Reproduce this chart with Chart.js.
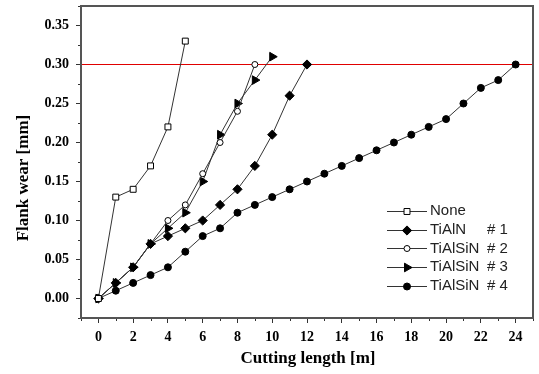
<!DOCTYPE html>
<html>
<head>
<meta charset="utf-8">
<script src="https://cdn.jsdelivr.net/npm/chart.js"></script>
<style>
  body { margin: 0; background: #fff; }
  canvas { display: block; }
</style>
</head>
<body>
<canvas id="wearChart" width="539" height="374"></canvas>
<script>
// cutting length in metres, one sample per metre
const cuttingLength = [0, 1, 2, 3, 4, 5, 6, 7, 8, 9, 10, 11, 12, 13, 14, 15, 16, 17, 18, 19, 20, 21, 22, 23, 24];

const seriesLabels = ['None', 'TiAlN # 1', 'TiAlSiN # 2', 'TiAlSiN # 3', 'TiAlSiN # 4'];
const wearNone = [0, 0.13, 0.14, 0.17, 0.22, 0.33];
const wearTiAlN1 = [0, 0.02, 0.04, 0.07, 0.08, 0.09, 0.10, 0.12, 0.14, 0.17, 0.21, 0.26, 0.30];
const wearTiAlSiN2 = [0, 0.02, 0.04, 0.07, 0.10, 0.12, 0.16, 0.20, 0.24, 0.30];
const wearTiAlSiN3 = [0, 0.02, 0.04, 0.07, 0.09, 0.11, 0.15, 0.21, 0.25, 0.28, 0.31];
const wearTiAlSiN4 = [0, 0.01, 0.02, 0.03, 0.04, 0.06, 0.08, 0.09, 0.11, 0.12, 0.13, 0.14, 0.15,
                      0.16, 0.17, 0.18, 0.19, 0.20, 0.21, 0.22, 0.23, 0.25, 0.27, 0.28, 0.30];

const xTicks = [0, 2, 4, 6, 8, 10, 12, 14, 16, 18, 20, 22, 24];
const yTicks = [0, 0.05, 0.10, 0.15, 0.20, 0.25, 0.30, 0.35];
const wearLimit = 0.30;

const serif = '"Liberation Serif", "Times New Roman", serif';
const sans = '"Liberation Sans", Arial, sans-serif';

function toPoints(ys) {
    return ys.map((y, i) => ({ x: cuttingLength[i], y: y }));
}

// marker look for each series
const markers = [
    { pointStyle: 'rect', radius: 4.2, rotation: 0, fill: '#fff' },
    { pointStyle: 'rectRot', radius: 4.6, rotation: 0, fill: '#000' },
    { pointStyle: 'circle', radius: 3, rotation: 0, fill: '#fff' },
    { pointStyle: 'triangle', radius: 5, rotation: 90, fill: '#000' },
    { pointStyle: 'circle', radius: 3.5, rotation: 0, fill: '#000' }
];

const allWear = [wearNone, wearTiAlN1, wearTiAlSiN2, wearTiAlSiN3, wearTiAlSiN4];

const datasets = allWear.map((ys, i) => ({
    label: seriesLabels[i],
    data: toPoints(ys),
    borderColor: '#333',
    borderWidth: 1,
    pointStyle: markers[i].pointStyle,
    pointRadius: markers[i].radius,
    pointRotation: markers[i].rotation,
    pointBackgroundColor: markers[i].fill,
    pointBorderColor: '#000',
    pointBorderWidth: 1,
    tension: 0
}));

// no extra label padding, so the plot box lands where the original has it
function noPadding(s) {
    s.paddingTop = 0;
    s.paddingBottom = 0;
    s.paddingLeft = 0;
    s.paddingRight = 0;
}

// frame, limit line, minor ticks, axis titles and the in-plot legend
const decorPlugin = {
    id: 'decor',
    beforeDatasetsDraw(chart) {
        const { ctx, chartArea: a, scales: { y } } = chart;
        const yy = Math.floor(y.getPixelForValue(wearLimit));
        ctx.save();
        ctx.fillStyle = '#e00000';
        ctx.fillRect(a.left, yy, a.right - a.left, 1);
        ctx.restore();
    },
    afterDraw(chart) {
        const { ctx, chartArea: a, scales: { x, y } } = chart;
        ctx.save();

        // minor ticks
        ctx.strokeStyle = '#333';
        ctx.lineWidth = 1;
        ctx.beginPath();
        for (let v = -1; v <= 25; v += 2) {
            const px = Math.round(x.getPixelForValue(v)) + 0.5;
            ctx.moveTo(px, a.bottom);
            ctx.lineTo(px, a.bottom + 3);
        }
        for (let k = -1; k <= 15; k += 2) {
            const py = Math.round(y.getPixelForValue(k * 0.025)) + 0.5;
            ctx.moveTo(a.left, py);
            ctx.lineTo(a.left - 3, py);
        }
        ctx.stroke();

        // frame
        ctx.strokeStyle = '#555';
        ctx.lineWidth = 2;
        ctx.strokeRect(a.left, a.top, a.right - a.left, a.bottom - a.top);

        // axis titles
        ctx.fillStyle = '#000';
        ctx.font = 'bold 17px ' + serif;
        ctx.textAlign = 'center';
        ctx.textBaseline = 'alphabetic';
        ctx.fillText('Cutting length [m]', 308, 363);
        ctx.translate(28, 178);
        ctx.rotate(-Math.PI / 2);
        ctx.fillText('Flank wear [mm]', 0, 0);
        ctx.restore();

        // legend
        ctx.save();
        ctx.font = '15px ' + sans;
        ctx.textBaseline = 'middle';
        ctx.textAlign = 'left';
        chart.data.datasets.forEach((ds, i) => {
            const ly = 211 + i * 18.7;
            ctx.strokeStyle = '#333';
            ctx.lineWidth = 1;
            ctx.beginPath();
            ctx.moveTo(387, Math.round(ly) + 0.5);
            ctx.lineTo(427, Math.round(ly) + 0.5);
            ctx.stroke();
            ctx.fillStyle = markers[i].fill;
            ctx.strokeStyle = '#000';
            Chart.helpers.drawPoint(ctx, {
                pointStyle: markers[i].pointStyle,
                radius: markers[i].radius,
                rotation: markers[i].rotation,
                borderWidth: 1
            }, 407, Math.round(ly) + 0.5);
            const parts = ds.label.split('#');
            ctx.fillStyle = '#222';
            ctx.fillText(parts[0].trim(), 430, ly);
            if (parts.length > 1) {
                ctx.fillText('# ' + parts[1].trim(), 487, ly);
            }
        });
        ctx.restore();
    }
};

new Chart(document.getElementById('wearChart'), {
    type: 'line',
    data: { datasets: datasets },
    options: {
        responsive: false,
        animation: false,
        layout: { padding: { left: 0, top: 5, right: 2, bottom: 0 } },
        plugins: {
            legend: { display: false },
            tooltip: { enabled: false }
        },
        scales: {
            x: {
                type: 'linear',
                min: -1,
                max: 25,
                afterFit(s) { s.height = 56; noPadding(s); },
                afterBuildTicks(s) { s.ticks = xTicks.map(v => ({ value: v })); },
                grid: { drawOnChartArea: false, drawTicks: true, tickLength: 5, tickColor: '#333' },
                border: { display: false },
                ticks: {
                    color: '#000',
                    padding: 6,
                    maxRotation: 0,
                    autoSkip: false,
                    font: { family: serif, size: 14, weight: 'bold' },
                    callback: v => String(v)
                }
            },
            y: {
                type: 'linear',
                min: -0.025,
                max: 0.375,
                afterFit(s) { s.width = 81; noPadding(s); },
                afterBuildTicks(s) { s.ticks = yTicks.map(v => ({ value: v })); },
                grid: { drawOnChartArea: false, drawTicks: true, tickLength: 5, tickColor: '#333' },
                border: { display: false },
                ticks: {
                    color: '#000',
                    padding: 7,
                    autoSkip: false,
                    font: { family: serif, size: 14, weight: 'bold' },
                    callback: v => v.toFixed(2)
                }
            }
        }
    },
    plugins: [decorPlugin]
});
</script>
</body>
</html>
